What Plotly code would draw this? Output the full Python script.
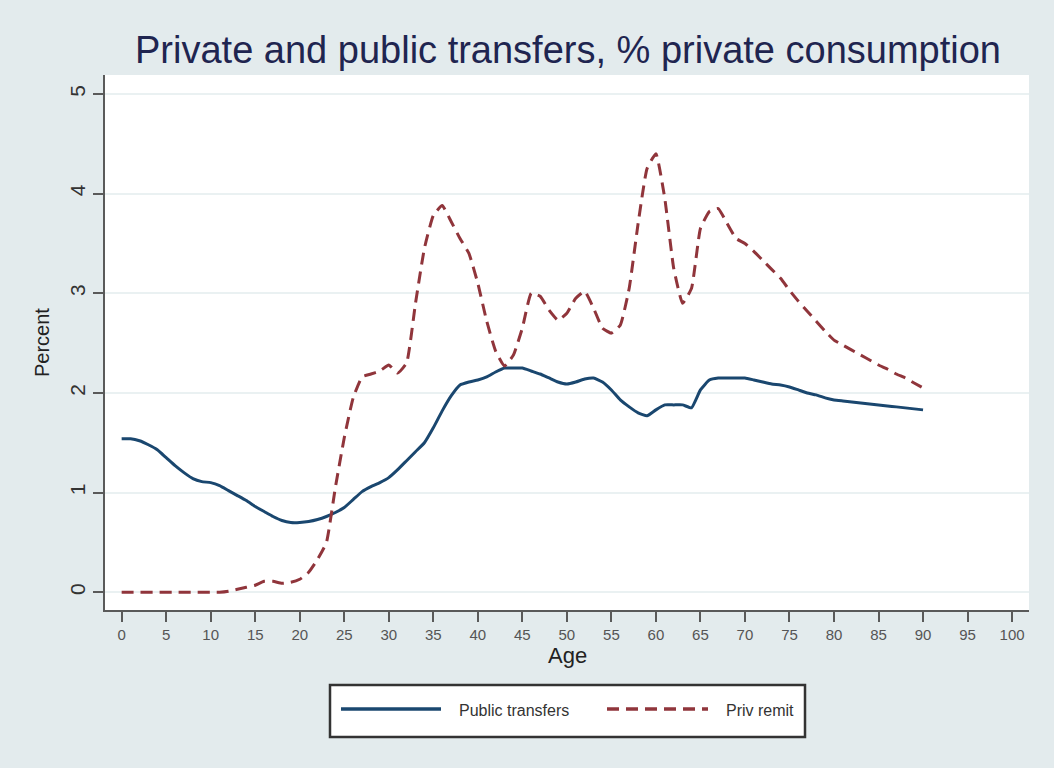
import plotly.graph_objects as go

# Age profile, 0-90
age = list(range(0, 91))

public_transfers = [
    1.54, 1.54, 1.52, 1.48, 1.43, 1.35, 1.27, 1.20, 1.14, 1.11,
    1.10, 1.07, 1.02, 0.97, 0.92, 0.86, 0.81, 0.76, 0.72, 0.70,
    0.70, 0.71, 0.73, 0.76, 0.80, 0.85, 0.93, 1.01, 1.06, 1.10,
    1.15, 1.23, 1.32, 1.41, 1.50, 1.65, 1.82, 1.97, 2.08, 2.11,
    2.13, 2.16, 2.21, 2.25, 2.25, 2.25, 2.22, 2.19, 2.15, 2.11,
    2.09, 2.11, 2.14, 2.15, 2.11, 2.03, 1.93, 1.86, 1.80, 1.77,
    1.83, 1.88, 1.88, 1.88, 1.85, 2.03, 2.13, 2.15, 2.15, 2.15,
    2.15, 2.13, 2.11, 2.09, 2.08, 2.06, 2.03, 2.00, 1.98, 1.95,
    1.93, 1.92, 1.91, 1.90, 1.89, 1.88, 1.87, 1.86, 1.85, 1.84,
    1.83,
]

priv_remit = [
    0.00, 0.00, 0.00, 0.00, 0.00, 0.00, 0.00, 0.00, 0.00, 0.00,
    0.00, 0.00, 0.01, 0.03, 0.05, 0.07, 0.11, 0.11, 0.09, 0.10,
    0.13, 0.20, 0.33, 0.50, 1.05, 1.55, 1.95, 2.16, 2.19, 2.22,
    2.28, 2.20, 2.30, 2.90, 3.45, 3.78, 3.88, 3.72, 3.55, 3.40,
    3.10, 2.72, 2.42, 2.27, 2.38, 2.65, 3.00, 2.97, 2.83, 2.73,
    2.80, 2.95, 3.02, 2.85, 2.65, 2.60, 2.68, 3.05, 3.70, 4.25,
    4.40, 3.95, 3.25, 2.90, 3.05, 3.65, 3.82, 3.85, 3.70, 3.55,
    3.50, 3.42, 3.33, 3.24, 3.15, 3.03, 2.92, 2.82, 2.72, 2.62,
    2.53, 2.48, 2.43, 2.38, 2.33, 2.28, 2.24, 2.19, 2.15, 2.10,
    2.05,
]

x_ticks = list(range(0, 101, 5))
y_ticks = [0, 1, 2, 3, 4, 5]

title_text = "Private and public transfers, % private consumption"
series_names = ["Public transfers", "Priv remit"]

NAVY = "#1a476f"
MAROON = "#90353b"
BG = "#e3ebed"
GRID = "#eaf1f2"
AXIS = "#5a5a5a"

W, H = 1054, 768
L, R, T, B = 105, 25, 75, 158
PW, PH = W - L - R, H - T - B


def px(xp):
    """pixel x -> paper x"""
    return (xp - L) / PW


def py(yp):
    """pixel y -> paper y"""
    return (H - B - yp) / PH


fig = go.Figure()

fig.add_trace(go.Scatter(
    x=age, y=public_transfers, mode="lines", name=series_names[0],
    line=dict(color=NAVY, width=3, shape="spline", smoothing=0.4), showlegend=False,
))
fig.add_trace(go.Scatter(
    x=age, y=priv_remit, mode="lines", name=series_names[1],
    line=dict(color=MAROON, width=3, dash="12px,7px", shape="spline", smoothing=0.4),
    showlegend=False,
))

fig.update_layout(
    width=W, height=H,
    margin=dict(l=L, r=R, t=T, b=B, pad=0),
    paper_bgcolor=BG,
    plot_bgcolor="white",
    font=dict(family="Liberation Sans, Arial, sans-serif", color="#222"),
    title=dict(
        text=title_text, x=568 / W, xanchor="center", xref="container",
        y=1 - 50 / H, yanchor="middle", yref="container",
        font=dict(size=38, color="#1f2550",
                  family="Liberation Sans, Arial, sans-serif"),
    ),
    xaxis=dict(
        range=[-1.87, 101.9], tickmode="array", tickvals=x_ticks,
        ticktext=[str(v) for v in x_ticks],
        ticks="outside", ticklen=10, tickwidth=2, tickcolor=AXIS,
        showline=True, linecolor=AXIS, linewidth=2, mirror=False,
        showgrid=False, zeroline=False,
        tickfont=dict(size=15, color="#555"),
    ),
    yaxis=dict(
        range=[-0.178, 5.19], tickmode="array", tickvals=y_ticks,
        ticktext=[str(v) for v in y_ticks],
        ticks="outside", ticklen=10, tickwidth=2, tickcolor=AXIS,
        showline=True, linecolor=AXIS, linewidth=2,
        showgrid=True, gridcolor=GRID, gridwidth=2, zeroline=False,
        tickangle=-90, tickfont=dict(size=21, color="#333"),
    ),
)

# Axis titles
fig.add_annotation(text="Age", x=px(567), y=py(655), xref="paper", yref="paper",
                   showarrow=False, font=dict(size=22, color="#222"),
                   xanchor="center", yanchor="middle")
fig.add_annotation(text="Percent", x=px(42), y=py(343), xref="paper", yref="paper",
                   showarrow=False, textangle=-90, font=dict(size=20, color="#222"),
                   xanchor="center", yanchor="middle")

# Legend box below the plot
fig.add_shape(type="rect", xref="paper", yref="paper",
              x0=px(330), x1=px(805), y0=py(737), y1=py(685),
              line=dict(color="#333", width=2.5), fillcolor="white", layer="above")
fig.add_shape(type="line", xref="paper", yref="paper",
              x0=px(341), x1=px(441), y0=py(709), y1=py(709),
              line=dict(color=NAVY, width=3.5))
fig.add_shape(type="line", xref="paper", yref="paper",
              x0=px(607), x1=px(708), y0=py(709), y1=py(709),
              line=dict(color=MAROON, width=3.5, dash="12px,7px"))
fig.add_annotation(text=series_names[0], x=px(457), y=py(710), xref="paper", yref="paper",
                   showarrow=False, xanchor="left", yanchor="middle",
                   font=dict(size=16, color="#333"))
fig.add_annotation(text=series_names[1], x=px(724), y=py(710), xref="paper", yref="paper",
                   showarrow=False, xanchor="left", yanchor="middle",
                   font=dict(size=16, color="#333"))

fig.write_html("out.html")
